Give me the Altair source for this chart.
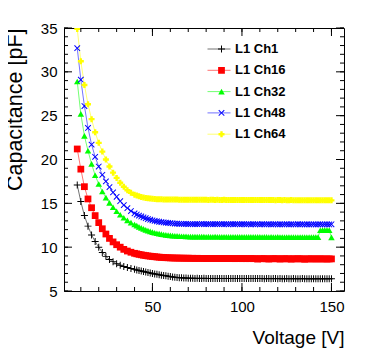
import altair as alt
import pandas as pd

series_names = ["L1 Ch1", "L1 Ch16", "L1 Ch32", "L1 Ch48", "L1 Ch64"]

voltage = [8, 10, 12, 14, 16, 18, 20, 22, 24, 26, 28, 30, 32, 34, 36, 38, 40,
           41.25, 42.5, 43.75, 45, 46.25, 47.5, 48.75, 50, 51.25, 52.5, 53.75, 55,
           56.25, 57.5, 58.75, 60, 61.25, 62.5, 63.75, 65, 66.25, 67.5, 68.75, 70,
           71.25, 72.5, 73.75, 75, 76.25, 77.5, 78.75, 80, 81.25, 82.5, 83.75, 85,
           86.25, 87.5, 88.75, 90, 91.25, 92.5, 93.75, 95, 96.25, 97.5, 98.75, 100,
           101.25, 102.5, 103.75, 105, 106.25, 107.5, 108.75, 110, 111.25, 112.5,
           113.75, 115, 116.25, 117.5, 118.75, 120, 121.25, 122.5, 123.75, 125,
           126.25, 127.5, 128.75, 130, 131.25, 132.5, 133.75, 135, 136.25, 137.5,
           138.75, 140, 141.25, 142.5, 143.75, 145, 146.25, 147.5, 148.75, 150]

cap_ch1 = [17.1, 15.2, 13.6, 12.4, 11.4, 10.65, 10.0, 9.4, 8.95, 8.6, 8.35, 8.12, 7.95, 7.8, 7.68, 7.57, 7.47,
           7.40, 7.34, 7.28, 7.22, 7.16, 7.10, 7.05, 7.00, 6.95, 6.90, 6.85, 6.81, 6.77, 6.73, 6.69, 6.65,
           6.61, 6.58, 6.55, 6.52, 6.50, 6.48, 6.47, 6.46,
           6.45, 6.45, 6.44, 6.45, 6.44, 6.44, 6.45, 6.44, 6.44, 6.43, 6.44, 6.44, 6.43, 6.44, 6.43, 6.43,
           6.44, 6.43, 6.43, 6.42, 6.43, 6.43, 6.42, 6.43, 6.42, 6.42, 6.43, 6.42, 6.42, 6.42, 6.43, 6.42,
           6.42, 6.41, 6.42, 6.42, 6.41, 6.42, 6.42, 6.41, 6.42, 6.41, 6.41, 6.42, 6.41, 6.41, 6.42, 6.41,
           6.41, 6.41, 6.42, 6.41, 6.41, 6.40, 6.41, 6.41, 6.40, 6.41, 6.41, 6.40, 6.41, 6.40, 6.41, 6.41]

cap_ch16 = [21.2, 18.9, 16.9, 15.5, 14.5, 13.6, 12.8, 12.1, 11.5, 11.0, 10.6, 10.28, 10.0, 9.75, 9.56, 9.42, 9.3,
            9.24, 9.18, 9.13, 9.08, 9.04, 9.00, 8.97, 8.94, 8.91, 8.88, 8.86, 8.84, 8.82, 8.80, 8.79, 8.78,
            8.77, 8.76, 8.76, 8.75, 8.75, 8.74, 8.74, 8.74,
            8.73, 8.73, 8.72, 8.73, 8.72, 8.72, 8.72, 8.71, 8.72, 8.71, 8.71, 8.72, 8.71, 8.70, 8.71, 8.70,
            8.70, 8.71, 8.70, 8.70, 8.69, 8.70, 8.70, 8.69, 8.70, 8.69, 8.69, 8.70, 8.69, 8.69, 8.64, 8.69,
            8.68, 8.69, 8.68, 8.64, 8.68, 8.69, 8.68, 8.68, 8.64, 8.68, 8.68, 8.67, 8.68, 8.63, 8.68, 8.67,
            8.67, 8.68, 8.67, 8.62, 8.67, 8.67, 8.66, 8.67, 8.66, 8.66, 8.67, 8.66, 8.66, 8.65, 8.66, 8.66]

cap_ch32 = [28.9, 25.2, 22.7, 21.0, 19.5, 18.2, 17.2, 16.35, 15.65, 15.05, 14.55, 14.1, 13.7, 13.35, 13.05, 12.8, 12.58,
            12.45, 12.32, 12.20, 12.08, 11.98, 11.88, 11.80, 11.72, 11.65, 11.59, 11.54, 11.49, 11.45, 11.41,
            11.38, 11.35, 11.32, 11.30, 11.28, 11.26, 11.25, 11.24, 11.23, 11.22,
            11.21, 11.21, 11.20, 11.21, 11.20, 11.20, 11.20, 11.19, 11.20, 11.19, 11.19, 11.20, 11.19, 11.19,
            11.18, 11.19, 11.19, 11.18, 11.18, 11.19, 11.18, 11.18, 11.17, 11.18, 11.18, 11.17, 11.18, 11.17,
            11.17, 11.18, 11.17, 11.17, 11.16, 11.17, 11.17, 11.16, 11.17, 11.16, 11.16, 11.17, 11.16, 11.16,
            11.15, 11.16, 11.16, 11.15, 11.16, 11.15, 11.15, 11.16, 11.15, 11.15, 11.14, 11.15, 11.15, 11.14,
            11.15, 11.14,
            11.93, 11.96, 11.95, 11.96, 11.94, 11.12]

cap_ch48 = [32.7, 29.1, 26.1, 23.6, 21.7, 20.3, 19.2, 18.25, 17.5, 16.85, 16.25, 15.75, 15.25, 14.8, 14.45, 14.12, 13.85,
            13.72, 13.60, 13.50, 13.40, 13.30, 13.21, 13.13, 13.06, 13.00, 12.95, 12.90, 12.86, 12.82, 12.79,
            12.76, 12.73, 12.71, 12.69, 12.68, 12.67, 12.66, 12.65, 12.65, 12.64,
            12.64, 12.64, 12.63, 12.64, 12.63, 12.65, 12.63, 12.62, 12.64, 12.63, 12.62, 12.63, 12.64, 12.62,
            12.63, 12.62, 12.63, 12.61, 12.63, 12.62, 12.62, 12.63, 12.61, 12.62, 12.62, 12.61, 12.63, 12.61,
            12.62, 12.61, 12.62, 12.60, 12.62, 12.61, 12.61, 12.62, 12.60, 12.61, 12.62, 12.60, 12.61, 12.60,
            12.61, 12.62, 12.60, 12.61, 12.60, 12.60, 12.62, 12.60, 12.61, 12.59, 12.61, 12.60, 12.60, 12.61,
            12.59, 12.60, 12.61, 12.59, 12.60, 12.60, 12.59, 12.61]

cap_ch64 = [34.9, 31.2, 28.5, 26.3, 24.6, 23.1, 21.9, 20.9, 20.0, 19.2, 18.5, 17.9, 17.35, 16.9, 16.5, 16.2, 15.98,
            15.88, 15.80, 15.73, 15.67, 15.62, 15.58, 15.55, 15.52, 15.50, 15.48, 15.47, 15.46, 15.45, 15.45,
            15.44, 15.44, 15.43, 15.43, 15.43, 15.42, 15.42, 15.42, 15.42, 15.41,
            15.41, 15.40, 15.41, 15.40, 15.40, 15.41, 15.40, 15.40, 15.39, 15.40, 15.40, 15.39, 15.40, 15.39,
            15.39, 15.40, 15.39, 15.39, 15.38, 15.39, 15.39, 15.38, 15.39, 15.38, 15.38, 15.39, 15.38, 15.38,
            15.37, 15.38, 15.38, 15.37, 15.38, 15.37, 15.37, 15.38, 15.37, 15.37, 15.36, 15.37, 15.37, 15.36,
            15.37, 15.36, 15.36, 15.37, 15.36, 15.36, 15.35, 15.36, 15.36, 15.35, 15.36, 15.35, 15.35, 15.36,
            15.35, 15.35, 15.34, 15.35, 15.35, 15.34, 15.35, 15.34]

x_major = [50, 100, 150]
x_minor = [10, 20, 30, 40, 50, 60, 70, 80, 90, 100, 110, 120, 130, 140, 150]
y_major = [5, 10, 15, 20, 25, 30, 35]
y_minor = [5, 6, 7, 8, 9, 10, 11, 12, 13, 14, 15, 16, 17, 18, 19, 20, 21, 22, 23, 24, 25,
           26, 27, 28, 29, 30, 31, 32, 33, 34, 35]

all_caps = [cap_ch1, cap_ch16, cap_ch32, cap_ch48, cap_ch64]
rows = []
for name, vals in zip(series_names, all_caps):
    assert len(vals) == len(voltage), (name, len(vals), len(voltage))
    for v, c in zip(voltage, vals):
        rows.append({"V": v, "C": c, "series": name})
df = pd.DataFrame(rows)

# ---- style ----
W, H = 280, 263
FONT = "Liberation Sans"
colors = ["#000000", "#ff0000", "#00ff00", "#0000ff", "#ffff00"]
# filled outlines of ROOT-like markers: +, full square, full triangle, x, full cross
marker_paths = [
    "M-1,-0.14H-0.14V-1H0.14V-0.14H1V0.14H0.14V1H-0.14V0.14H-1Z",
    "square",
    "triangle-up",
    "M-1,-0.78L-0.78,-1L0,-0.22L0.78,-1L1,-0.78L0.22,0L1,0.78L0.78,1L0,0.22L-0.78,1L-1,0.78L-0.22,0Z",
    "cross",
]
marker_sizes = [49, 36, 42, 40, 45]

xs = alt.Scale(domain=[0.6, 157], nice=False, zero=False)
ys = alt.Scale(domain=[5, 35], nice=False, zero=False)

main_x_axis = alt.Axis(values=x_major, ticks=False, tickSize=0, domain=False, grid=False,
                       labelFont=FONT, labelFontSize=15, labelPadding=8, labelColor="black",
                       title="Voltage [V]", titleFont=FONT, titleFontSize=19, titleFontWeight="normal",
                       titleColor="black", titleAnchor="end", titleAlign="right",
                       titleBaseline="alphabetic", titleX=W, titleY=52)
main_y_axis = alt.Axis(values=y_major, ticks=False, tickSize=0, domain=False, grid=False,
                       labelFont=FONT, labelFontSize=15, labelPadding=7, labelColor="black",
                       title="Capacitance [pF]", titleFont=FONT, titleFontSize=21.5, titleFontWeight="normal",
                       titleColor="black", titleAngle=270, titleAlign="right",
                       titleBaseline="alphabetic", titleX=-42.5, titleY=0)

legend_common = dict(orient="none", legendX=143, legendY=10.5, title=None, clipHeight=21,
                     rowPadding=0.3, padding=0, labelFont=FONT, labelFontSize=13,
                     labelFontWeight="bold", labelColor="black")
legend_lines = alt.Legend(symbolSize=529, symbolStrokeWidth=1, symbolOffset=0, labelOffset=4,
                          **legend_common)
# marker-only overlay of the same legend rows (its labels are left empty)
legend_marks = alt.Legend(symbolSize=42, symbolOffset=8, labelOffset=4, labelExpr="''",
                          symbolStrokeWidth=0, **legend_common)

base = alt.Chart(df)

lines = base.mark_line(strokeWidth=1, opacity=0.55, clip=True).encode(
    x=alt.X("V:Q", scale=xs, axis=main_x_axis),
    y=alt.Y("C:Q", scale=ys, axis=main_y_axis),
    color=alt.Color("series:N", scale=alt.Scale(domain=series_names, range=colors), legend=legend_lines),
    order=alt.Order("V:Q"),
)

points = base.mark_point(filled=True, opacity=1, clip=True).encode(
    x=alt.X("V:Q", scale=xs),
    y=alt.Y("C:Q", scale=ys),
    color=alt.Color("series:N", scale=alt.Scale(domain=series_names, range=colors), legend=legend_marks),
    shape=alt.Shape("series:N", scale=alt.Scale(domain=series_names, range=marker_paths), legend=legend_marks),
    size=alt.Size("series:N", scale=alt.Scale(domain=series_names, range=marker_sizes), legend=None),
)


def x_ticks(values, y_from, y_to):
    return alt.Chart(pd.DataFrame({"V": values})).mark_rule(color="black", strokeWidth=1).encode(
        x=alt.X("V:Q", scale=xs), y=alt.value(y_from), y2=alt.value(y_to))


def y_ticks(values, x_from, x_to):
    return alt.Chart(pd.DataFrame({"C": values})).mark_rule(color="black", strokeWidth=1).encode(
        y=alt.Y("C:Q", scale=ys), x=alt.value(x_from), x2=alt.value(x_to))


tick_layers = [
    x_ticks(x_minor, H, H - 4), x_ticks(x_major, H, H - 8),
    x_ticks(x_minor, 0, 4), x_ticks(x_major, 0, 8),
    y_ticks(y_minor, 0, 4), y_ticks(y_major, 0, 8),
    y_ticks(y_minor, W, W - 4), y_ticks(y_major, W, W - 8),
]

chart = alt.layer(lines, points, *tick_layers).resolve_scale(
    color="independent", shape="independent", size="independent"
).properties(
    width=W, height=H,
    padding={"left": 56, "top": 20, "right": 20, "bottom": 58},
    autosize=alt.AutoSizeParams(type="none"),
    background="white",
).configure_view(stroke="black", strokeWidth=1)

chart.save("out.html", embed_options={"renderer": "svg", "actions": False})
